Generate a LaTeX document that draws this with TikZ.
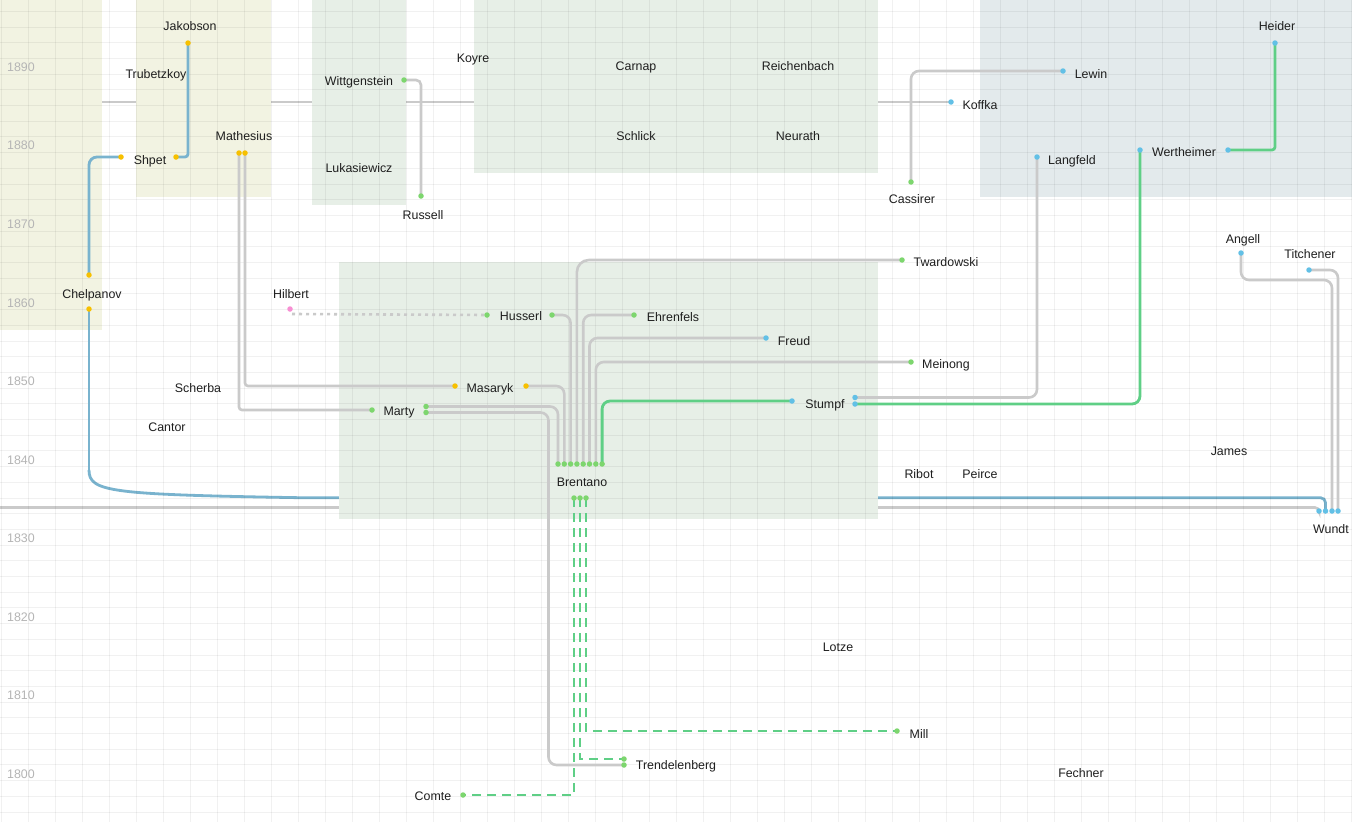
\documentclass[tikz,border=0pt]{standalone}
\usepackage{fontspec}
\setmainfont{Liberation Sans}
\usetikzlibrary{calc}

\definecolor{linkgray}{HTML}{CACACA}
\definecolor{linkblue}{HTML}{79B3CE}
\definecolor{linkgreen}{HTML}{5FCF86}
\definecolor{dotgreen}{HTML}{7DD66E}
\definecolor{dotblue}{HTML}{62C0E6}
\definecolor{dotyellow}{HTML}{F7C000}
\definecolor{dotpink}{HTML}{F78FD3}
\definecolor{zoneolive}{HTML}{F2F3E2}
\definecolor{zonegreen}{HTML}{E7EFE7}
\definecolor{zoneblue}{HTML}{E3EAEC}
\definecolor{yeartext}{HTML}{B5B5B5}
\definecolor{nametext}{HTML}{1E1E1E}

\pgfdeclarelayer{back}
\pgfdeclarelayer{zones}
\pgfdeclarelayer{grid}
\pgfdeclarelayer{links}
\pgfsetlayers{back,zones,grid,links,main}

\tikzset{
  dotbase/.style={circle, inner sep=0pt, minimum size=5.5pt, draw=none},
  gdot/.style={dotbase, fill=dotgreen},
  bdot/.style={dotbase, fill=dotblue},
  ydot/.style={dotbase, fill=dotyellow},
  pdot/.style={dotbase, fill=dotpink},
  person/.style={inner sep=0pt, text height=9pt, text depth=2.5pt, yshift=-1pt,
                 text=nametext, font=\fontsize{12.4}{14}\selectfont},
  yearlabel/.style={inner sep=0pt, anchor=west, text=yeartext, font=\fontsize{12.4}{14}\selectfont},
  glink/.style={draw=linkgray, line width=2.6pt, rounded corners=8pt},
  blink/.style={draw=linkblue, line width=2.8pt, rounded corners=8pt},
  grlink/.style={draw=linkgreen, line width=2.8pt, rounded corners=8pt},
  grdash/.style={draw=linkgreen, line width=2.8pt, dash pattern=on 9pt off 6pt},
  gdots/.style={draw=linkgray, line width=2.6pt, dash pattern=on 3pt off 4pt},
  gridline/.style={draw=black, opacity=0.055, line width=1pt}
}

\begin{document}
\begin{tikzpicture}[x=1pt, y=-1pt]
\useasboundingbox (0,0) rectangle (1352,822);

% ---------- dots ----------
\node[ydot] (jakD)   at (188,43) {};
\node[ydot] (shpetR) at (176,157) {};
\node[ydot] (shpetL) at (121,157) {};
\node[ydot] (chelT)  at (89,275) {};
\node[ydot] (chelB)  at (89,309) {};
\node[ydot] (mathA)  at (239,153) {};
\node[ydot] (mathB)  at (245,153) {};
\node[ydot] (masL)   at (455,386) {};
\node[ydot] (masR)   at (526,386) {};
\node[pdot] (hilD)   at (290,309) {};
\node[gdot] (husL)   at (487,315) {};
\node[gdot] (husR)   at (552,315) {};
\node[gdot] (ehrD)   at (634,315) {};
\node[bdot] (freudD) at (766,338) {};
\node[gdot] (twaD)   at (902,260) {};
\node[gdot] (meiD)   at (911,362) {};
\node[bdot] (stuL)   at (792,401) {};
\node[bdot] (stuR1)  at (855,397.5) {};
\node[bdot] (stuR2)  at (855,404) {};
\node[gdot] (martyL) at (372,410) {};
\node[gdot] (martyR1) at (426,406.5) {};
\node[gdot] (martyR2) at (426,412.5) {};
\foreach \k [evaluate=\k as \bx using 558+6.3*(\k-1)] in {1,...,8}
  \node[gdot] (bren\k) at (\bx,464) {};
\node[gdot] (brenB1) at (574,498) {};
\node[gdot] (brenB2) at (580,498) {};
\node[gdot] (brenB3) at (586,498) {};
\node[gdot] (comteD) at (463,795) {};
\node[gdot] (trendA) at (624,759) {};
\node[gdot] (trendB) at (624,765) {};
\node[gdot] (millD)  at (897,731) {};
\node[gdot] (wittD)  at (404,80) {};
\node[gdot] (russD)  at (421,196) {};
\node[gdot] (cassD)  at (911,182) {};
\node[bdot] (lewinD) at (1063,71) {};
\node[bdot] (koffD)  at (951,102) {};
\node[bdot] (langD)  at (1037,157) {};
\node[bdot] (wertL)  at (1140,150) {};
\node[bdot] (wertR)  at (1228,150) {};
\node[bdot] (heiderD) at (1275,43) {};
\node[bdot] (angD)   at (1241,253) {};
\node[bdot] (titD)   at (1309,270) {};
\node[bdot] (wundt1) at (1319,511) {};
\node[bdot] (wundt2) at (1325.5,511) {};
\node[bdot] (wundt3) at (1332,511) {};
\node[bdot] (wundt4) at (1338,511) {};

% ---------- names ----------
\node[person] (Jakobson)     at (190,26)  {Jakobson};
\node[person] (Trubetzkoy)   at (156,74)  {Trubetzkoy};
\node[person] (Mathesius)    at (244,136) {Mathesius};
\node[person] (Shpet)        at (150,160) {Shpet};
\node[person] (Chelpanov)    at (92,294)  {Chelpanov};
\node[person] (Hilbert)      at (291,294) {Hilbert};
\node[person] (Scherba)      at (198,388) {Scherba};
\node[person] (Cantor)       at (167,427) {Cantor};
\node[person] (Marty)        at (399,411) {Marty};
\node[person] (Wittgenstein) at (359,81)  {Wittgenstein};
\node[person] (Lukasiewicz)  at (359,168) {Lukasiewicz};
\node[person] (Russell)      at (423,215) {Russell};
\node[person] (Koyre)        at (473,58)  {Koyre};
\node[person] (Carnap)       at (636,66)  {Carnap};
\node[person] (Reichenbach)  at (798,66)  {Reichenbach};
\node[person] (Schlick)      at (636,136) {Schlick};
\node[person] (Neurath)      at (798,136) {Neurath};
\node[person] (Cassirer)     at (912,199) {Cassirer};
\node[person] (Koffka)       at (980,105) {Koffka};
\node[person] (Lewin)        at (1091,74) {Lewin};
\node[person] (Langfeld)     at (1072,160) {Langfeld};
\node[person] (Wertheimer)   at (1184,152) {Wertheimer};
\node[person] (Heider)       at (1277,26) {Heider};
\node[person] (Angell)       at (1243,239) {Angell};
\node[person] (Titchener)    at (1310,254) {Titchener};
\node[person] (James)        at (1229,451) {James};
\node[person] (Wundt)        at (1331,529) {Wundt};
\node[person] (Brentano)     at (582,482) {Brentano};
\node[person] (Husserl)      at (521,316) {Husserl};
\node[person] (Masaryk)      at (490,388) {Masaryk};
\node[person] (Ehrenfels)    at (673,317) {Ehrenfels};
\node[person] (Freud)        at (794,341) {Freud};
\node[person] (Twardowski)   at (946,262) {Twardowski};
\node[person] (Meinong)      at (946,364) {Meinong};
\node[person] (Stumpf)       at (825,404) {Stumpf};
\node[person] (Ribot)        at (919,474) {Ribot};
\node[person] (Peirce)       at (980,474) {Peirce};
\node[person] (Trendelenberg) at (676,765) {Trendelenberg};
\node[person] (Comte)        at (433,796) {Comte};
\node[person] (Mill)         at (919,734) {Mill};
\node[person] (Lotze)        at (838,647) {Lotze};
\node[person] (Fechner)      at (1081,773) {Fechner};

% ---------- year scale ----------
\foreach \yr/\yy in {1890/67,1880/145,1870/224,1860/303,1850/381,1840/460,1830/538,1820/617,1810/695,1800/774}
  \node[yearlabel] (year\yr) at (7,\yy) {\yr};

% ---------- long lines under the zones ----------
\coordinate (chelBend) at (89,470);
\begin{pgfonlayer}{back}
  \fill[white] (0,0) rectangle (1352,822);
  \coordinate (koffStart) at (0,102);
  \coordinate (axisStart) at (0,507.5);
  \draw[glink] (koffStart) -- (koffD.center);
  \draw[glink, rounded corners=4pt] (axisStart) -| (wundt1.center);
  \draw[blink, rounded corners=0pt] (chelBend)
     .. controls (89,492) and (110,494.5) .. (300,497.7)
     [rounded corners=5pt] -| (wundt2.center);
\end{pgfonlayer}

% ---------- shaded zones ----------
\begin{pgfonlayer}{zones}
  \fill[zoneolive] (0,0) rectangle (102,330);
  \fill[zoneolive] (136,0) rectangle (271,197);
  \fill[zonegreen] (312,0) rectangle (406,205);
  \fill[zonegreen] (474,0) rectangle (878,173);
  \fill[zonegreen] (339,262) rectangle (878,519);
  \fill[zoneblue]  (980,0) rectangle (1352,197);
\end{pgfonlayer}

% ---------- grid ----------
\begin{pgfonlayer}{grid}
  \foreach \i [evaluate=\i as \gx using 1.3+27*\i] in {0,...,50}
    \draw[gridline] (\gx,0) -- (\gx,822);
  \foreach \j [evaluate=\j as \gy using 11.3+15.7*\j] in {0,...,51}
    \draw[gridline] (0,\gy) -- (1352,\gy);
\end{pgfonlayer}

% ---------- connectors ----------
\begin{pgfonlayer}{links}
  % Chelpanov downwards (continues under the zones to Wundt)
  \draw[blink, line cap=round] (chelB.center) -- (chelBend);
  % into Brentano
  \draw[glink] (martyR1.center) -| (bren1.center);
  \draw[glink] (masR.center) -| (bren2.center);
  \draw[glink] (husR.center) -| (bren3.center);
  \draw[glink, rounded corners=12pt] (twaD.center) -| (bren4.center);
  \draw[glink] (ehrD.center) -| (bren5.center);
  \draw[glink] (freudD.center) -| (bren6.center);
  \draw[glink] (meiD.center) -| (bren7.center);
  \draw[grlink] (stuL.center) -| (bren8.center);
  % Mathesius
  \draw[glink, rounded corners=3pt] (mathA.center) |- (martyL.center);
  \draw[glink, rounded corners=3pt] (mathB.center) |- (masL.center);
  % Marty to Trendelenberg
  \coordinate (mtBend) at (548.5,765);
  \draw[glink] (martyR2.center) -| (mtBend) -- (trendB.center);
  % from Brentano downwards
  \draw[grdash] (brenB1.center) |- (comteD.center);
  \draw[grdash] (brenB2.center) |- (trendA.center);
  \draw[grdash] (brenB3.center) |- (millD.center);
  % Hilbert
  \draw[gdots] (hilD.center) ++(2,5) -- (husL.center);
  % upper groups
  \draw[glink, rounded corners=5pt] (wittD.center) -| (russD.center);
  \draw[glink] (cassD.center) |- (lewinD.center);
  \draw[glink] (stuR1.center) -| (langD.center);
  \draw[grlink] (stuR2.center) -| (wertL.center);
  \draw[grlink, rounded corners=3pt] (wertR.center) -| (heiderD.center);
  % into Wundt
  \draw[glink] (angD.center) -- ++(0,27) -| (wundt3.center);
  \draw[glink] (titD.center) -| (wundt4.center);
  % Russian line
  \draw[blink, rounded corners=3pt] (jakD.center) |- (shpetR.center);
  \draw[blink] (shpetL.center) -| (chelT.center);
\end{pgfonlayer}
\end{tikzpicture}
\end{document}
